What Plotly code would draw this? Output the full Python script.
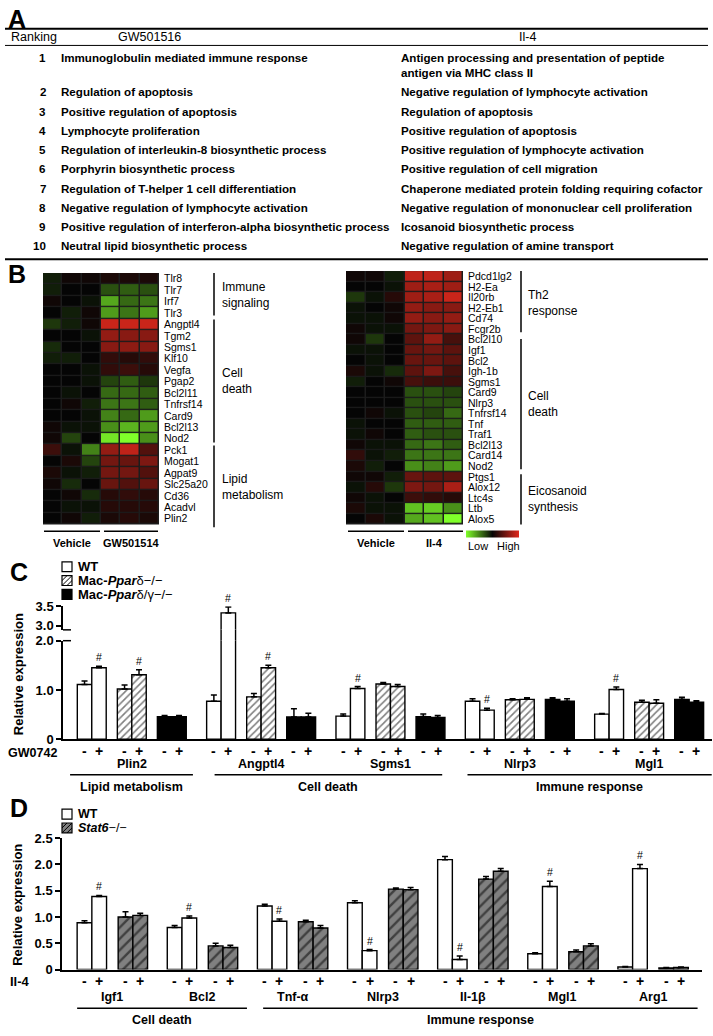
import plotly.graph_objects as go

W, H = 713, 1036
def X(px): return px / W
def Y(py): return 1 - py / H

FONT = "Liberation Sans, Arial, sans-serif"

# ---------------- Panel A data ----------------
ranks = list(range(1, 11))
gw_terms = [
    "Immunoglobulin mediated immune response",
    "Regulation of apoptosis",
    "Positive regulation of apoptosis",
    "Lymphocyte proliferation",
    "Regulation of interleukin-8 biosynthetic process",
    "Porphyrin biosynthetic process",
    "Regulation of T-helper 1 cell differentiation",
    "Negative regulation of lymphocyte activation",
    "Positive regulation of interferon-alpha biosynthetic process",
    "Neutral lipid biosynthetic process",
]
il4_terms = [
    "Antigen processing and presentation of peptide<br>antigen via MHC class II",
    "Negative regulation of lymphocyte activation",
    "Regulation of apoptosis",
    "Positive regulation of apoptosis",
    "Positive regulation of lymphocyte activation",
    "Positive regulation of cell migration",
    "Chaperone mediated protein folding requiring cofactor",
    "Negative regulation of mononuclear cell proliferation",
    "Icosanoid biosynthetic process",
    "Negative regulation of amine transport",
]

# ---------------- Panel B data ----------------
gw_genes = ["Tlr8", "Tlr7", "Irf7", "Tlr3", "Angptl4", "Tgm2", "Sgms1", "Klf10", "Vegfa",
            "Pgap2", "Bcl2l11", "Tnfrsf14", "Card9", "Bcl2l13", "Nod2", "Pck1", "Mogat1",
            "Agpat9", "Slc25a20", "Cd36", "Acadvl", "Plin2"]
gw_z = [
    [-0.10, 0.05, 0.05, 0.10, 0.10, 0.10],
    [-0.10, 0.00, 0.00, -0.30, -0.35, -0.30],
    [0.05, 0.00, -0.05, -0.65, -0.40, -0.45],
    [0.00, -0.10, 0.05, -0.60, -0.45, -0.60],
    [-0.20, -0.10, 0.05, 0.90, 0.90, 0.90],
    [0.00, 0.00, -0.05, 0.65, 0.60, 0.60],
    [-0.15, 0.00, 0.00, 0.60, 0.62, 0.60],
    [-0.10, -0.10, 0.00, 0.20, 0.15, 0.20],
    [0.00, 0.00, -0.05, 0.20, 0.25, 0.15],
    [0.00, 0.00, -0.05, -0.25, -0.35, -0.20],
    [0.00, -0.05, 0.00, -0.40, -0.40, -0.35],
    [0.00, 0.05, -0.10, -0.45, -0.45, -0.35],
    [0.00, 0.00, -0.05, -0.50, -0.40, -0.60],
    [0.05, -0.05, -0.05, -0.55, -0.70, -0.60],
    [0.05, -0.25, 0.00, -0.90, -1.00, -0.55],
    [0.25, -0.05, -0.50, 0.65, 0.85, 0.35],
    [0.00, 0.10, -0.25, 0.50, 0.45, 0.55],
    [0.10, -0.05, -0.10, 0.50, 0.50, 0.35],
    [0.05, -0.15, 0.00, 0.45, 0.35, 0.45],
    [0.00, 0.05, -0.15, 0.15, 0.20, 0.15],
    [0.00, -0.05, -0.05, 0.15, 0.15, 0.15],
    [0.00, 0.05, -0.10, 0.10, 0.15, 0.10],
]
il4_genes = ["Pdcd1lg2", "H2-Ea", "Il20rb", "H2-Eb1", "Cd74", "Fcgr2b", "Bcl2l10", "Igf1",
             "Bcl2", "Igh-1b", "Sgms1", "Card9", "Nlrp3", "Tnfrsf14", "Tnf", "Traf1",
             "Bcl2l13", "Card14", "Nod2", "Ptgs1", "Alox12", "Ltc4s", "Ltb", "Alox5"]
il4_z = [
    [0.05, 0.05, -0.10, 0.85, 0.85, 0.70],
    [0.00, 0.00, -0.05, 0.70, 0.75, 0.70],
    [-0.20, -0.05, 0.15, 0.70, 0.75, 0.90],
    [-0.05, 0.00, 0.05, 0.65, 0.60, 0.60],
    [-0.05, -0.05, 0.05, 0.65, 0.60, 0.65],
    [0.05, -0.05, -0.05, 0.50, 0.55, 0.60],
    [0.05, -0.20, 0.00, 0.40, 0.65, 0.30],
    [-0.05, -0.05, 0.00, 0.45, 0.50, 0.40],
    [0.00, -0.05, 0.00, 0.45, 0.45, 0.40],
    [0.10, -0.05, -0.15, 0.40, 0.55, 0.30],
    [-0.10, 0.00, 0.05, 0.30, 0.25, 0.25],
    [0.00, 0.00, 0.00, -0.30, -0.30, -0.25],
    [0.00, 0.00, 0.00, -0.30, -0.30, -0.30],
    [0.00, 0.05, -0.05, -0.30, -0.25, -0.40],
    [-0.05, 0.00, 0.00, -0.35, -0.35, -0.35],
    [-0.05, 0.05, 0.00, -0.35, -0.30, -0.30],
    [0.05, -0.05, -0.05, -0.40, -0.45, -0.35],
    [0.20, -0.05, -0.10, -0.45, -0.45, -0.45],
    [0.10, -0.10, 0.00, -0.55, -0.50, -0.60],
    [0.05, 0.05, -0.10, 0.45, 0.40, 0.40],
    [-0.05, 0.15, -0.20, 0.55, 0.50, 0.75],
    [0.05, -0.05, 0.00, 0.25, 0.20, 0.15],
    [0.10, -0.05, -0.05, -0.75, -0.80, -0.55],
    [0.00, 0.10, -0.05, -0.65, -0.75, -1.00],
]
hm_cols = [0, 1, 2, 3, 4, 5]
hm_scale = [[0, "#80ff2a"], [0.5, "#050505"], [1, "#e0281c"]]

# ---------------- Panel C data (order per gene: -, +) ----------------
genes_c = ["Plin2", "Angptl4", "Sgms1", "Nlrp3", "Mgl1"]
wt_c = [1.11, 1.45, 0.77, 3.33, 0.47, 1.03, 0.77, 0.59, 0.51, 1.01]
wt_c_err = [0.07, 0.03, 0.13, 0.15, 0.04, 0.04, 0.05, 0.04, 0.01, 0.05]
ko_c = [1.02, 1.31, 0.86, 1.45, 1.12, 1.07, 0.80, 0.81, 0.75, 0.73]
ko_c_err = [0.08, 0.10, 0.07, 0.05, 0.03, 0.04, 0.02, 0.03, 0.04, 0.07]
dko_c = [0.46, 0.46, 0.45, 0.45, 0.46, 0.44, 0.81, 0.77, 0.81, 0.75]
dko_c_err = [0.02, 0.02, 0.17, 0.08, 0.05, 0.04, 0.03, 0.05, 0.04, 0.03]
sig_c = [(0, 0), (0, 1), (1, 0), (1, 1), (2, 0), (3, 0), (4, 0)]  # (gene, genotype) for '+' bar
c_categories = ["Lipid metabolism", "Cell death", "Immune response"]
treat_labels = ["-", "+"]

# ---------------- Panel D data ----------------
genes_d = ["Igf1", "Bcl2", "Tnf-\u03b1", "Nlrp3", "Il-1\u03b2", "Mgl1", "Arg1"]
wt_d = [0.89, 1.39, 0.80, 0.98, 1.21, 0.92, 1.27, 0.36, 2.09, 0.19, 0.30, 1.58, 0.05, 1.92]
wt_d_err = [0.04, 0.02, 0.04, 0.04, 0.03, 0.04, 0.04, 0.02, 0.06, 0.07, 0.02, 0.10, 0.01, 0.08]
st_d = [1.00, 1.03, 0.45, 0.42, 0.91, 0.79, 1.53, 1.52, 1.72, 1.87, 0.34, 0.45, 0.03, 0.04]
st_d_err = [0.10, 0.04, 0.05, 0.04, 0.03, 0.05, 0.02, 0.04, 0.05, 0.05, 0.03, 0.04, 0.01, 0.01]
sig_d = [0, 1, 2, 3, 4, 5, 6]
d_categories = ["Cell death", "Immune response"]

fig = go.Figure()
shapes = []
ann = []

def txt(x, y, s, size=12, xanchor="left", yanchor="middle", bold=False, family=FONT,
        angle=0, align="left"):
    if bold:
        s = "<b>" + s + "</b>"
    ann.append(dict(x=X(x), y=Y(y), xref="paper", yref="paper", text=s, showarrow=False,
                    xanchor=xanchor, yanchor=yanchor, textangle=angle, align=align,
                    font=dict(family=family, size=size, color="black")))

def dtxt(x, y, s, xref, size=12.5):
    ann.append(dict(x=x, y=Y(y), xref=xref, yref="paper", text="<b>%s</b>" % s,
                    showarrow=False, xanchor="center", yanchor="middle",
                    font=dict(family=FONT, size=size, color="black")))

def line(x0, y0, x1, y1, w=1.5):
    shapes.append(dict(type="line", xref="paper", yref="paper", x0=X(x0), x1=X(x1),
                       y0=Y(y0), y1=Y(y1), line=dict(color="black", width=w)))

def rect(x0, y0, x1, y1, fill):
    shapes.append(dict(type="rect", xref="paper", yref="paper", x0=X(x0), x1=X(x1),
                       y0=Y(y1), y1=Y(y0), fillcolor=fill, line=dict(color="black", width=1.2)))

# ---------------- Panel A ----------------
txt(6, 12, "A", size=25, bold=True)
line(5, 22, 708, 22, 2)
line(5, 39, 708, 39, 1)
line(5, 256, 708, 256, 2)
txt(9, 30.5, "Ranking", size=12.5)
txt(116, 30.5, "GW501516", size=12.5)
txt(527, 30.5, "Il-4", size=12.5, xanchor="center")
row_y = [51, 86, 106, 125, 145, 164, 184, 203, 223, 242]
TS = 11.6
for r, g, i, yy in zip(ranks, gw_terms, il4_terms, row_y):
    txt(48, yy, str(r), size=TS, xanchor="right", bold=True)
    txt(59, yy, g, size=TS, bold=True)
    if "<br>" in i:
        txt(399, yy - 8, i, size=TS, bold=True, yanchor="top")
    else:
        txt(399, yy, i, size=TS, bold=True)

# ---------------- Panel B ----------------
txt(6, 271, "B", size=25, bold=True)
fig.add_trace(go.Heatmap(z=gw_z, x=hm_cols, y=gw_genes, colorscale=hm_scale, zmin=-1, zmax=1,
                         xgap=1.5, ygap=1.3, showscale=False, xaxis="x", yaxis="y",
                         hoverinfo="skip"))
fig.add_trace(go.Heatmap(z=il4_z, x=hm_cols, y=il4_genes, colorscale=hm_scale, zmin=-1, zmax=1,
                         xgap=1.5, ygap=1.3, showscale=True, xaxis="x2", yaxis="y2",
                         hoverinfo="skip",
                         colorbar=dict(orientation="h", x=X(492.5), xanchor="center",
                                       y=Y(534.5), yanchor="middle", len=53, lenmode="pixels",
                                       thickness=7, thicknessmode="pixels",
                                       showticklabels=False, ticks="", outlinewidth=0,
                                       xpad=0, ypad=0)))
for ax, ay in (("x", "y"), ("x2", "y2")):
    shapes.append(dict(type="rect", xref=ax + " domain", yref=ay + " domain",
                       x0=0, x1=1, y0=0, y1=1, fillcolor="#1c1c1c", line=dict(width=0),
                       layer="below"))

line(214, 270, 214, 313); line(214, 317, 214, 442); line(214, 445, 214, 528)
txt(220, 292, "Immune<br>signaling", size=12)
txt(220, 379, "Cell<br>death", size=12)
txt(220, 487, "Lipid<br>metabolism", size=12)
line(521, 268, 521, 330); line(521, 337, 521, 469); line(521, 474, 521, 525)
txt(526, 300, "Th2<br>response", size=12)
txt(526, 403, "Cell<br>death", size=12)
txt(526, 499, "Eicosanoid<br>synthesis", size=12)
line(44, 532, 100, 532); line(104, 532, 158, 532)
line(348, 532, 404, 532); line(408, 532, 463, 532)
txt(72, 543.5, "Vehicle", size=11, bold=True, xanchor="center")
txt(131, 543.5, "GW501514", size=11, bold=True, xanchor="center")
txt(376, 543.5, "Vehicle", size=11, bold=True, xanchor="center")
txt(435, 543.5, "Il-4", size=11, bold=True, xanchor="center")
txt(466, 547, "Low", size=11)
txt(522, 547, "High", size=11, xanchor="right")

# ---------------- Panel C ----------------
txt(8, 573, "C", size=25, bold=True)
UC, PC, GC = 1.0, 2.77, 8.95   # bar unit, genotype spacing, gene period
def xc(g, k, t): return g * GC + k * PC + t * UC

c_traces = [(wt_c, wt_c_err, dict(color="white")),
            (ko_c, ko_c_err, dict(color="white", pattern=dict(shape="/", fgcolor="black",
                                                               bgcolor="white", size=5,
                                                               solidity=0.32))),
            (dko_c, dko_c_err, dict(color="black"))]
for k, (vals, errs, mk) in enumerate(c_traces):
    xs = [xc(g, k, t) for g in range(len(genes_c)) for t in (0, 1)]
    for xx, lab in zip(xs, treat_labels * len(genes_c)):
        dtxt(xx, 755, lab, "x3", size=14)
    m = dict(mk); m["line"] = dict(color="black", width=1.4)
    fig.add_trace(go.Bar(x=xs, y=vals, width=UC, marker=m, xaxis="x3", yaxis="y3",
                         error_y=dict(type="data", array=errs, arrayminus=[0] * len(errs),
                                      symmetric=False, color="black", thickness=1.5, width=3),
                         hoverinfo="skip"))
    big = [i for i, v in enumerate(vals) if v > 2.0]
    if big:
        bx = [xs[i] for i in big]; bv = [vals[i] for i in big]; be = [errs[i] for i in big]
        for yax in ("y4", "y5"):
            fig.add_trace(go.Bar(x=bx, y=bv, width=UC, marker=m, xaxis="x3", yaxis=yax,
                                 error_y=dict(type="data", array=be, arrayminus=[0] * len(be),
                                              symmetric=False, color="black", thickness=1.5,
                                              width=3),
                                 hoverinfo="skip"))
for g, k in sig_c:
    vals, errs = (wt_c, wt_c_err) if k == 0 else (ko_c, ko_c_err)
    i = g * 2 + 1
    top = vals[i] + errs[i]
    yr = "y4" if vals[i] > 2.0 else "y3"
    ann.append(dict(x=xc(g, k, 1), y=top, xref="x3", yref=yr, text="#", showarrow=False,
                    xanchor="center", yanchor="bottom", yshift=1,
                    font=dict(family=FONT, size=10.5, color="black")))

rect(62, 563, 72, 573, "white")
rect(62, 577, 72, 587, "white")
for (a, b, c, d) in [(62, 587, 72, 577), (62, 582, 67, 577), (67, 587, 72, 582)]:
    line(a, b, c, d, 1)
rect(62, 591, 72, 601, "black")
txt(76, 568, "WT", size=13, bold=True)
txt(76, 582, "<b>Mac-<i>Ppar</i></b>\u03b4\u2212/\u2212", size=13)
txt(76, 596, "<b>Mac-<i>Ppar</i></b>\u03b4/\u03b3\u2212/\u2212", size=13)
txt(18, 677, "Relative expression", size=13, bold=True, angle=-90, xanchor="center")
txt(6, 757, "GW0742", size=12.5, bold=True)
for g, name in enumerate(genes_c):
    dtxt(xc(g, 1, 0.5), 768, name, "x3")
c_spans = [(-1.0, 7.5), (9.0, 24.75), (26.5, 43.4)]
for (a, b), lab in zip(c_spans, c_categories):
    shapes.append(dict(type="line", xref="x3", yref="paper", x0=a, x1=b, y0=Y(779), y1=Y(779),
                       line=dict(color="black", width=1.5)))
    dtxt((a + b) / 2, 791, lab, "x3")
line(63, 632, 71, 632, 1.5)
line(63, 643, 71, 643, 1.5)

# ---------------- Panel D ----------------
txt(8, 813, "D", size=25, bold=True)
PD, GD = 2.79, 6.13
def xd(g, k, t): return g * GD + k * PD + t * UC

d_traces = [(wt_d, wt_d_err, dict(color="white")),
            (st_d, st_d_err, dict(color="#808080", pattern=dict(shape="/", fgcolor="black",
                                                                 bgcolor="#808080", size=8,
                                                                 solidity=0.3)))]
for k, (vals, errs, mk) in enumerate(d_traces):
    xs = [xd(g, k, t) for g in range(len(genes_d)) for t in (0, 1)]
    for xx, lab in zip(xs, treat_labels * len(genes_d)):
        dtxt(xx, 988.5, lab, "x6", size=14)
    m = dict(mk); m["line"] = dict(color="black", width=1.4)
    fig.add_trace(go.Bar(x=xs, y=vals, width=UC, marker=m, xaxis="x6", yaxis="y6",
                         error_y=dict(type="data", array=errs, arrayminus=[0] * len(errs),
                                      symmetric=False, color="black", thickness=1.5, width=3),
                         hoverinfo="skip"))
for g in sig_d:
    i = g * 2 + 1
    ann.append(dict(x=xd(g, 0, 1), y=wt_d[i] + wt_d_err[i], xref="x6", yref="y6", text="#",
                    showarrow=False, xanchor="center", yanchor="bottom", yshift=1,
                    font=dict(family=FONT, size=10.5, color="black")))
rect(62, 814, 72, 824, "white")
rect(62, 828, 72, 838, "#808080")
for (a, b, c, d) in [(62, 838, 72, 828), (62, 833, 67, 828), (67, 838, 72, 833)]:
    line(a, b, c, d, 1)
txt(76, 819, "WT", size=12.5, bold=True)
txt(76, 833.5, "<b><i>Stat6</i></b>\u2212/\u2212", size=12.5)
txt(18, 911, "Relative expression", size=13, bold=True, angle=-90, xanchor="center")
txt(8, 988.5, "Il-4", size=13, bold=True)
for g, name in enumerate(genes_d):
    dtxt((xd(g, 0, 0.5) + xd(g, 1, 0.5)) / 2, 1005, name, "x6")
d_spans = [(-0.5, 11.05), (12.15, 41.7)]
for (a, b), lab in zip(d_spans, d_categories):
    shapes.append(dict(type="line", xref="x6", yref="paper", x0=a, x1=b, y0=Y(1016), y1=Y(1016),
                       line=dict(color="black", width=1.5)))
    dtxt((a + b) / 2, 1027.5, lab, "x6")

# ---------------- Layout ----------------
tickf = dict(family=FONT, size=13, color="black", weight="bold")
def hm_y(genes):
    return dict(side="right", ticks="", showline=False, showgrid=False, zeroline=False,
                autorange="reversed", tickmode="array", tickvals=genes, ticktext=genes,
                tickfont=dict(family=FONT, size=10.5, color="black"), ticklabelstandoff=4)
bar_y = dict(showline=True, linecolor="black", linewidth=1.5, ticks="outside", ticklen=5,
             tickwidth=1.5, tickcolor="black", showgrid=False, zeroline=False, tickfont=tickf)
bar_x = dict(showline=True, linecolor="black", linewidth=1.5, ticks="", showticklabels=False,
             showgrid=False, zeroline=False)
fig.update_layout(
    width=W, height=H, margin=dict(l=0, r=0, t=0, b=0),
    paper_bgcolor="white", plot_bgcolor="white", showlegend=False, barmode="overlay",
    xaxis=dict(domain=[X(43), X(159)], range=[-0.5, 5.5], visible=False, anchor="y"),
    yaxis=dict(domain=[Y(525), Y(270)], anchor="x", **hm_y(gw_genes)),
    xaxis2=dict(domain=[X(346), X(463)], range=[-0.5, 5.5], visible=False, anchor="y2"),
    yaxis2=dict(domain=[Y(525), Y(268)], anchor="x2", **hm_y(il4_genes)),
    xaxis3=dict(domain=[X(63), X(712)], range=[-1.49, 43.42], anchor="y3", **bar_x),
    yaxis3=dict(domain=[Y(743), Y(643)], range=[0, 2.0], anchor="x3", tickvals=[0, 1.0, 2.0],
                ticktext=["0", "1.0", "2.0"], **bar_y),
    yaxis4=dict(domain=[Y(632), Y(608)], range=[2.9, 3.5], anchor="x3", tickvals=[3.0, 3.5],
                ticktext=["3.0", "3.5"], **bar_y),
    yaxis5=dict(domain=[Y(643), Y(632)], range=[2.0, 2.9], anchor="x3", visible=False),
    xaxis6=dict(domain=[X(62), X(702)], range=[-1.53, 42.0], anchor="y6", **bar_x),
    yaxis6=dict(domain=[Y(976.7), Y(843.3)], range=[0, 2.5], anchor="x6",
                tickvals=[0, 0.5, 1.0, 1.5, 2.0, 2.5],
                ticktext=["0", "0.5", "1.0", "1.5", "2.0", "2.5"], **bar_y),
    shapes=shapes, annotations=ann,
)
fig.write_html("out.html", config={"displayModeBar": False},
               post_script="document.body.style.margin='0px';")
